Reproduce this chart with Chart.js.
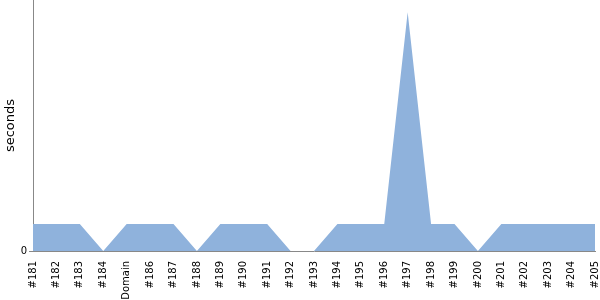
<!DOCTYPE html>
<html>
<head>
<meta charset="utf-8">
<script src="https://cdn.jsdelivr.net/npm/chart.js@4/dist/chart.umd.min.js"></script>
<style>
  html, body { margin: 0; padding: 0; background: #fff; }
  #wrap { width: 600px; height: 300px; }
</style>
</head>
<body>
<div id="wrap"><canvas id="chart"></canvas></div>
<script>
const builds = ['#181', '#182', '#183', '#184', 'Domain', '#186', '#187', '#188', '#189', '#190', '#191', '#192', '#193',
  '#194', '#195', '#196', '#197', '#198', '#199', '#200', '#201', '#202', '#203', '#204', '#205'];
const seconds = [1, 1, 1, 0, 1, 1, 1, 0, 1, 1, 1, 0, 0, 1, 1, 1, 8.85, 1, 1, 0, 1, 1, 1, 1, 1];
const yTicks = [0];

Chart.defaults.font.family = 'DejaVu Sans';
Chart.defaults.color = '#000';

function noEdgePadding(scale) {
  scale.paddingTop = 0;
  scale.paddingBottom = 0;
  scale.paddingLeft = 0;
  scale.paddingRight = 0;
}

new Chart(document.getElementById('chart'), {
  type: 'line',
  data: {
    labels: builds,
    datasets: [{
      label: 'seconds',
      data: seconds,
      borderWidth: 0,
      borderColor: 'rgba(0,0,0,0)',
      backgroundColor: '#8fb2dc',
      fill: 'origin',
      pointRadius: 0,
      tension: 0,
    }],
  },
  options: {
    responsive: true,
    maintainAspectRatio: false,
    animation: false,
    layout: { padding: { top: 0, right: 5, left: 0, bottom: 0 } },
    plugins: { legend: { display: false }, tooltip: { enabled: false } },
    scales: {
      x: {
        grid: { display: false },
        border: { color: '#888', width: 1 },
        ticks: { font: { size: 10 }, color: '#000', minRotation: 90, maxRotation: 90, autoSkip: false, padding: 2 },
        afterFit: (scale) => { scale.height = 49; noEdgePadding(scale); },
      },
      y: {
        min: 0,
        max: 9.3,
        grid: { drawOnChartArea: false, drawTicks: true, tickLength: 4, color: '#888' },
        border: { color: '#888', width: 1 },
        afterBuildTicks: (scale) => { scale.ticks = yTicks.map((v) => ({ value: v })); },
        ticks: { font: { size: 10 }, color: '#000', padding: 2 },
        title: { display: true, text: 'seconds', font: { size: 13 }, color: '#000', padding: { top: 3, bottom: 0 } },
        afterFit: (scale) => { scale.width = 33; noEdgePadding(scale); },
      },
    },
  },
});
</script>
</body>
</html>
